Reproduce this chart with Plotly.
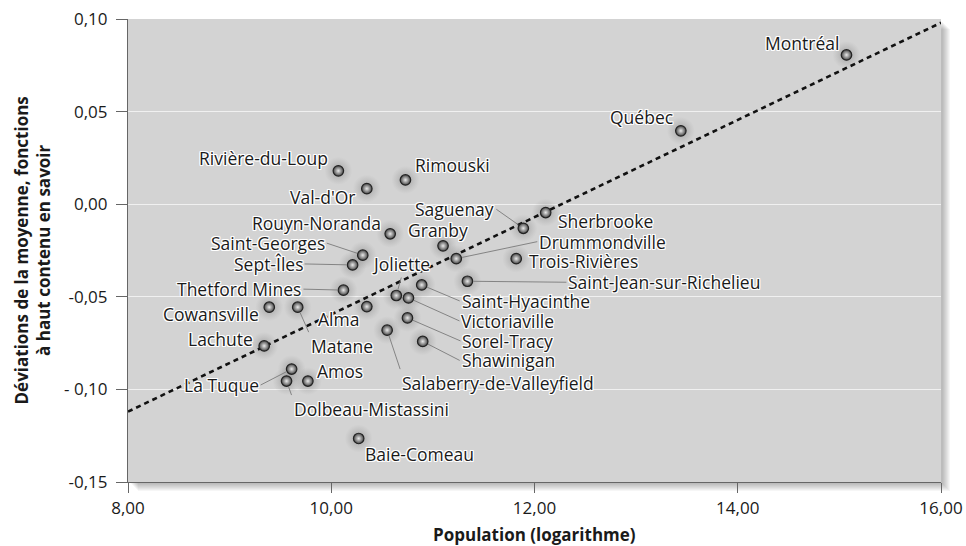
import plotly.graph_objects as go

# ---------------- data ----------------
cities = ["Montréal", "Québec", "Rivière-du-Loup", "Rimouski", "Val-d'Or",
          "Rouyn-Noranda", "Granby", "Saint-Georges", "Sept-Îles", "Joliette",
          "Saguenay", "Sherbrooke", "Drummondville", "Trois-Rivières",
          "Saint-Jean-sur-Richelieu", "Thetford Mines", "Saint-Hyacinthe",
          "Victoriaville", "Sorel-Tracy", "Shawinigan", "Salaberry-de-Valleyfield",
          "Cowansville", "Alma", "Matane", "Lachute", "Amos", "La Tuque",
          "Dolbeau-Mistassini", "Baie-Comeau"]
log_pop = [15.07, 13.44, 10.07, 10.73, 10.35,
           10.58, 11.10, 10.31, 10.21, 10.64,
           11.89, 12.11, 11.23, 11.82,
           11.34, 10.12, 10.89,
           10.76, 10.75, 10.90, 10.55,
           9.39, 10.35, 9.67, 9.34, 9.77, 9.61,
           9.56, 10.27]
deviation = [0.0806, 0.0396, 0.0180, 0.0131, 0.0084,
             -0.0160, -0.0225, -0.0275, -0.0328, -0.0493,
             -0.0130, -0.0045, -0.0294, -0.0294,
             -0.0416, -0.0464, -0.0436,
             -0.0506, -0.0614, -0.0741, -0.0680,
             -0.0556, -0.0553, -0.0556, -0.0765, -0.0955, -0.0890,
             -0.0955, -0.1265]
trend_x = [8.0, 16.0]
trend_y = [-0.112, 0.098]

x_tickvals = [8, 10, 12, 14, 16]
x_ticktext = ["8,00", "10,00", "12,00", "14,00", "16,00"]
y_tickvals = [-0.15, -0.10, -0.05, 0.0, 0.05, 0.10]
y_ticktext = ["-0,15", "- 0,10", "-0,05", "0,00", "0,05", "0,10"]

x_title = "Population (logarithme)"
y_title = "Déviations de la moyenne, fonctions<br>à haut contenu en savoir"

# ---------------- label placement (style / layout only) ----------------
# ("t", xanchor, xshift, yshift)  plain label next to point
# ("a", xanchor, yanchor, ax, ay) label with leader line
label_pos = {
    "Montréal": ("t", "right", -5, 12),
    "Québec": ("t", "right", -6, 14),
    "Rivière-du-Loup": ("t", "right", -8, 13),
    "Rimouski": ("t", "left", 8, 15),
    "Val-d'Or": ("t", "right", -9, -8),
    "Rouyn-Noranda": ("t", "right", -7, 11),
    "Granby": ("t", "center", -5, 16),
    "Saint-Georges": ("a", "right", "middle", -36, -12),
    "Sept-Îles": ("a", "right", "middle", -48, -1),
    "Joliette": ("a", "center", "bottom", 5, -18),
    "Saguenay": ("a", "right", "middle", -27, -19),
    "Sherbrooke": ("t", "left", 10, -8),
    "Drummondville": ("a", "left", "middle", 81, -17),
    "Trois-Rivières": ("t", "left", 11, -2),
    "Saint-Jean-sur-Richelieu": ("a", "left", "middle", 99, 1),
    "Thetford Mines": ("a", "right", "middle", -40, -1),
    "Saint-Hyacinthe": ("a", "left", "middle", 38, 16),
    "Victoriaville": ("a", "left", "middle", 51, 23),
    "Sorel-Tracy": ("a", "left", "middle", 53, 23),
    "Shawinigan": ("a", "left", "middle", 37, 19),
    "Salaberry-de-Valleyfield": ("a", "left", "top", 13, 39),
    "Cowansville": ("t", "right", -8, -7),
    "Alma": ("t", "right", -6, -12),
    "Matane": ("a", "left", "top", 11, 25),
    "Lachute": ("t", "right", -9, 7),
    "Amos": ("t", "left", 7, 10),
    "La Tuque": ("a", "right", "middle", -31, 16),
    "Dolbeau-Mistassini": ("a", "left", "top", 5, 14),
    "Baie-Comeau": ("t", "left", 4, -16),
}

FONT = "Open Sans, Noto Sans, sans-serif"
INK = "#1a1a1a"
HALO = ("-1px -1px 0 #fff, 1px -1px 0 #fff, -1px 1px 0 #fff, 1px 1px 0 #fff, "
        "0 -1px 0 #fff, 0 1px 0 #fff, -1px 0 0 #fff, 1px 0 0 #fff")

fig = go.Figure()

# soft shadows under points
fig.add_trace(go.Scatter(
    x=log_pop, y=deviation, mode="markers", hoverinfo="skip", showlegend=False,
    marker=dict(size=28, color="rgba(120,120,120,0)",
                gradient=dict(type="radial", color="rgba(80,80,80,0.4)"),
                line=dict(width=0)),
))

# trend line
fig.add_trace(go.Scatter(
    x=trend_x, y=trend_y, mode="lines", showlegend=False, hoverinfo="skip",
    line=dict(color="#111", width=2.6, dash="5px,4px"),
))

# points
fig.add_trace(go.Scatter(
    x=log_pop, y=deviation, mode="markers", text=cities, showlegend=False,
    hovertemplate="%{text}<br>%{x:.2f}, %{y:.3f}<extra></extra>",
    marker=dict(size=10.5, color="#454545",
                gradient=dict(type="radial", color="#eaeaea"),
                line=dict(color="#222", width=1.2)),
))

annotations = []
for name, xv, yv in zip(cities, log_pop, deviation):
    p = label_pos[name]
    base = dict(x=xv, y=yv, xref="x", yref="y", text=name,
                font=dict(family=FONT, size=17.5, color=INK, shadow=HALO))
    if p[0] == "t":
        base.update(showarrow=False, xanchor=p[1], yanchor="middle",
                    xshift=p[2], yshift=p[3])
    else:
        base.update(showarrow=True, arrowhead=0, arrowwidth=0.9,
                    arrowcolor="#7a7a7a", xanchor=p[1], yanchor=p[2],
                    ax=p[3], ay=p[4], standoff=6, borderpad=1)
    annotations.append(base)

# axis titles
annotations.append(dict(text="<b>" + x_title + "</b>", xref="paper", yref="paper",
                        x=0.5, y=0, xanchor="center", yanchor="middle",
                        yshift=-52, showarrow=False,
                        font=dict(family=FONT, size=17, color=INK)))
annotations.append(dict(text="<b>" + y_title + "</b>", xref="paper", yref="paper",
                        x=0, y=0.5, xanchor="center", yanchor="middle",
                        xshift=-96, textangle=-90, showarrow=False,
                        font=dict(family=FONT, size=17, color=INK)))

# plot area background with drop shadow (paper coords of plot area)
shapes = []
pw, ph = 813.0, 463.0
for k in range(1, 9):
    shapes.append(dict(type="rect", xref="paper", yref="paper", layer="below",
                       x0=(k + 2) / pw, x1=1 + (k + 1) / pw,
                       y0=-(k + 1) / ph, y1=1 - (k + 2) / ph,
                       fillcolor="rgba(0,0,0,0.035)", line=dict(width=0)))
shapes.append(dict(type="rect", xref="paper", yref="paper", layer="below",
                   x0=0, x1=1, y0=0, y1=1, fillcolor="#d3d3d3",
                   line=dict(width=0)))

fig.update_layout(
    width=966, height=546,
    margin=dict(l=128, r=25, t=19, b=64, autoexpand=False),
    paper_bgcolor="white", plot_bgcolor="rgba(0,0,0,0)",
    font=dict(family=FONT, size=17, color=INK),
    annotations=annotations, shapes=shapes,
    xaxis=dict(range=[8, 16], tickvals=x_tickvals, ticktext=x_ticktext,
               showgrid=False, zeroline=False, showline=True, automargin=False,
               linecolor="#666", linewidth=1.2, ticks="outside", ticklen=10,
               tickcolor="#666", tickwidth=1.2, ticklabelstandoff=0,
               tickfont=dict(size=17, color=INK)),
    yaxis=dict(range=[-0.15, 0.10], tickvals=y_tickvals, ticktext=y_ticktext,
               showgrid=True, gridcolor="#f0f0f0", gridwidth=1, zeroline=False,
               showline=True, linecolor="#666", linewidth=1.2, automargin=False,
               ticks="outside", ticklen=11, tickcolor="#666", tickwidth=1.2,
               ticklabelstandoff=5, tickfont=dict(size=17, color=INK)),
)

fig.write_html("out.html", config={"displayModeBar": False},
               post_script="document.body.style.margin='0';")
